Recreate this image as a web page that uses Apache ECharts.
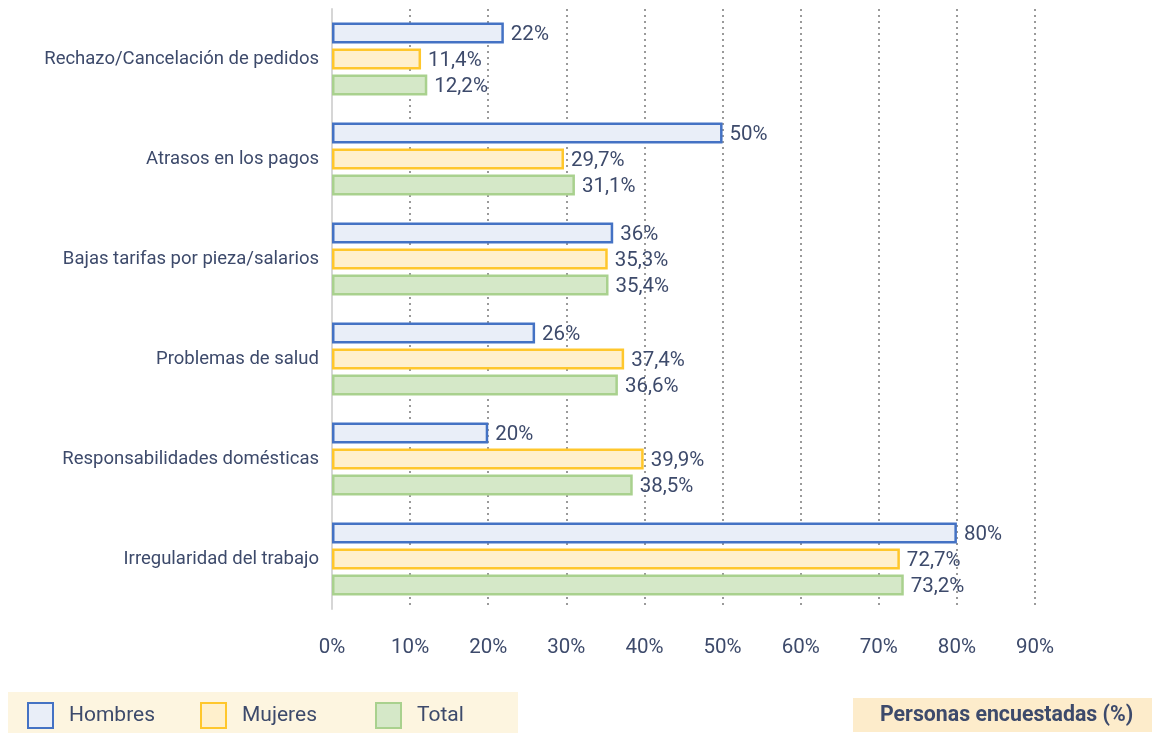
<!DOCTYPE html>
<html>
<head>
<meta charset="utf-8">
<script src="https://cdn.jsdelivr.net/npm/echarts@6/dist/echarts.min.js"></script>
<style>
  html, body { margin: 0; padding: 0; background: #fff; }
  #chart { width: 1152px; height: 733px; }
</style>
</head>
<body>
<div id="chart"></div>
<script>
var categories = [
  'Rechazo/Cancelación de pedidos',
  'Atrasos en los pagos',
  'Bajas tarifas por pieza/salarios',
  'Problemas de salud',
  'Responsabilidades domésticas',
  'Irregularidad del trabajo'
]
var hombres = [22, 50, 36, 26, 20, 80]
var mujeres = [11.4, 29.7, 35.3, 37.4, 39.9, 72.7]
var total = [12.2, 31.1, 35.4, 36.6, 38.5, 73.2]
var seriesNames = ['Hombres', 'Mujeres', 'Total']
var axisTitle = 'Personas encuestadas (%)'

var textColor = '#3d4a6b'
var font = 'Roboto, sans-serif'

function pct(v) {
  return String(v).replace('.', ',') + '%'
}

function makeSeries(name, data, fill, stroke) {
  return {
    name: name,
    type: 'bar',
    data: data,
    barWidth: 21,
    barGap: '24%',
    itemStyle: { color: fill, borderColor: stroke, borderWidth: 2.5 },
    label: {
      show: true,
      position: 'right',
      distance: 7,
      offset: [0, 2],
      color: textColor,
      fontFamily: font,
      fontSize: 20.5,
      formatter: function (p) { return pct(p.value) }
    }
  }
}

// one legend per item so the slots are evenly spaced like the original
var legendLeft = [27, 200, 375]
var legends = seriesNames.map(function (name, i) {
  return {
    data: [name],
    left: legendLeft[i],
    top: 702,
    padding: 0,
    itemWidth: 25,
    itemHeight: 25,
    icon: 'rect',
    textStyle: { color: textColor, fontFamily: font, fontSize: 21, padding: [0, 0, 0, 11] }
  }
})

var myChart = echarts.init(document.getElementById('chart'))
var option = {
  animation: false,
  textStyle: { fontFamily: font },
  grid: { left: 332, right: 117, top: 9, bottom: 124 },
  graphic: [{
    type: 'rect',
    left: 8,
    top: 692,
    z: -10,
    shape: { width: 510, height: 41 },
    style: { fill: '#fdf5e0' }
  }],
  title: {
    text: axisTitle,
    left: 853,
    top: 698,
    padding: [7, 19, 6, 27],
    backgroundColor: '#fdeccb',
    textStyle: { color: textColor, fontFamily: font, fontSize: 21.3, fontWeight: 'bold' }
  },
  legend: legends,
  xAxis: {
    type: 'value',
    min: 0,
    max: 90,
    interval: 10,
    axisLine: { show: false },
    axisTick: { show: false },
    axisLabel: {
      color: textColor,
      fontSize: 20.5,
      margin: 28,
      formatter: '{value}%'
    },
    splitLine: {
      show: true,
      lineStyle: { color: '#9a9a9a', type: [2, 4], width: 2 }
    }
  },
  yAxis: {
    type: 'category',
    data: categories,
    inverse: true,
    axisLine: { show: true, lineStyle: { color: '#d6d6d6', width: 2 } },
    axisTick: { show: false },
    axisLabel: { color: textColor, fontSize: 18.5, margin: 13 }
  },
  series: [
    makeSeries(seriesNames[0], hombres, '#e9eef8', '#4472c4'),
    makeSeries(seriesNames[1], mujeres, '#fff0cc', '#ffc72c'),
    makeSeries(seriesNames[2], total, '#d5e8c8', '#a9d18e')
  ]
}
myChart.setOption(option)
</script>
</body>
</html>
